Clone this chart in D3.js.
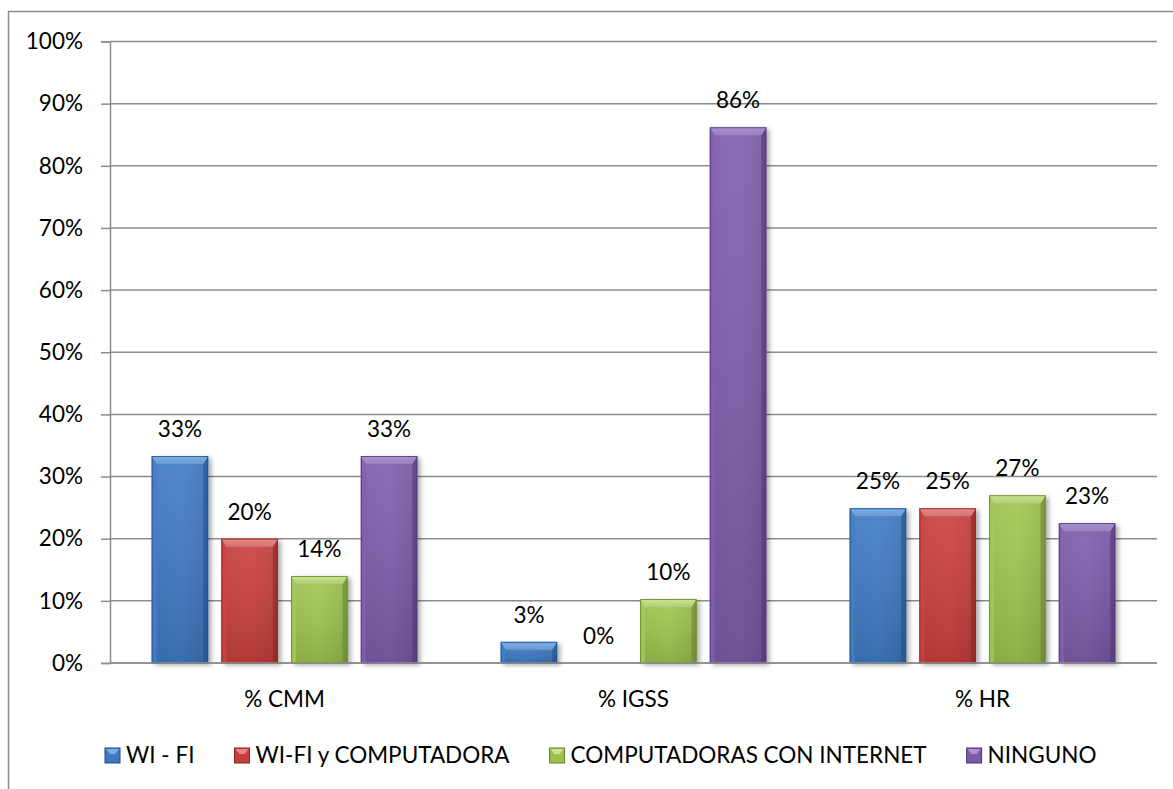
<!DOCTYPE html>
<html>
<head>
<meta charset="utf-8">
<script src="https://cdn.jsdelivr.net/npm/d3@7"></script>
<style>
  html, body { margin: 0; padding: 0; background: #fff; }
  svg { display: block; font-family: Lato, "Open Sans", sans-serif; }
</style>
</head>
<body>
<svg id="chart" width="1173" height="789"></svg>
<script>
// Chart data
const categories = ["% CMM", "% IGSS", "% HR"];
const seriesNames = ["WI - FI", "WI-FI y COMPUTADORA", "COMPUTADORAS CON INTERNET", "NINGUNO"];
const wifi         = [33.3, 3.4, 24.9];
const wifiComp     = [20.0, 0.0, 24.9];
const compInternet = [14.0, 10.3, 27.0];
const ninguno      = [33.3, 86.2, 22.5];
const seriesValues = [wifi, wifiComp, compInternet, ninguno];
const yTicks = [0, 10, 20, 30, 40, 50, 60, 70, 80, 90, 100];

// Series colours: base, light (bevel top), dark (edges)
const palette = [
  { base: "#3f78c0", light: "#7aaee8", dark: "#1f4f8a" },
  { base: "#c4403c", light: "#ec8683", dark: "#8a2522" },
  { base: "#9bc04e", light: "#cbe68c", dark: "#66822a" },
  { base: "#7b5ba8", light: "#ad92d4", dark: "#4e3575" }
];

const FONT = 22.5;
const svg = d3.select("#chart");
const margin = { left: 110, right: 16, top: 41.5, bottom: 126 };
const W = 1173, H = 789;
const plotL = margin.left, plotR = W - margin.right;
const plotT = margin.top, plotB = H - margin.bottom;

// Outer chart frame (left and top edges visible)
svg.append("path")
  .attr("d", `M8.5,${H} L8.5,11.5 L${W},11.5`)
  .attr("fill", "none").attr("stroke", "#8c8c8c").attr("stroke-width", 1.5);

const y = d3.scaleLinear().domain([0, 100]).range([plotB, plotT]);
const x0 = d3.scaleBand().domain(categories).range([plotL, plotR]).padding(0);
const groupInset = x0.bandwidth() * 0.1195;
const x1 = d3.scaleBand().domain(seriesNames)
  .range([groupInset, x0.bandwidth() - groupInset])
  .paddingInner(0.19).paddingOuter(0);

// Gradients and shadow
const defs = svg.append("defs");
palette.forEach((p, i) => {
  const g = defs.append("linearGradient").attr("id", "body" + i)
    .attr("x1", "0").attr("x2", "1").attr("y1", "0").attr("y2", "0");
  g.append("stop").attr("offset", "0").attr("stop-color", p.base);
  g.append("stop").attr("offset", "0.5").attr("stop-color", d3.color(p.base).brighter(0.12));
  g.append("stop").attr("offset", "1").attr("stop-color", d3.color(p.base).darker(0.15));
  const v = defs.append("linearGradient").attr("id", "vert" + i)
    .attr("x1", "0").attr("x2", "0").attr("y1", "0").attr("y2", "1");
  v.append("stop").attr("offset", "0").attr("stop-color", "#fff").attr("stop-opacity", 0.08);
  v.append("stop").attr("offset", "1").attr("stop-color", "#000").attr("stop-opacity", 0.12);
  const t = defs.append("linearGradient").attr("id", "top" + i)
    .attr("x1", "0").attr("x2", "0").attr("y1", "0").attr("y2", "1");
  t.append("stop").attr("offset", "0").attr("stop-color", p.light);
  t.append("stop").attr("offset", "1").attr("stop-color", d3.color(p.light).darker(0.35));
});
const shadow = defs.append("filter").attr("id", "shadow")
  .attr("x", "-20%").attr("y", "-10%").attr("width", "150%").attr("height", "130%");
shadow.append("feGaussianBlur").attr("in", "SourceAlpha").attr("stdDeviation", 2.5).attr("result", "b");
shadow.append("feOffset").attr("in", "b").attr("dx", 3).attr("dy", 2).attr("result", "o");
shadow.append("feComponentTransfer").attr("in", "o").attr("result", "s")
  .append("feFuncA").attr("type", "linear").attr("slope", 0.35);
const merge = shadow.append("feMerge");
merge.append("feMergeNode").attr("in", "s");
merge.append("feMergeNode").attr("in", "SourceGraphic");

// Gridlines
svg.append("g").selectAll("line").data(yTicks).join("line")
  .attr("x1", plotL).attr("x2", plotR)
  .attr("y1", d => y(d)).attr("y2", d => y(d))
  .attr("stroke", "#8c8c8c").attr("stroke-width", 1.5);

// Y axis
const yAxis = svg.append("g").attr("transform", `translate(${plotL},0)`)
  .call(d3.axisLeft(y).tickValues(yTicks).tickFormat(d => d + "%").tickSize(9).tickPadding(18));
yAxis.select(".domain").attr("stroke", "#8c8c8c").attr("stroke-width", 1.5);
yAxis.selectAll(".tick line").attr("stroke", "#8c8c8c").attr("stroke-width", 1.5);
yAxis.selectAll(".tick text").attr("font-size", FONT).attr("fill", "#000")
  .attr("font-family", "Lato, sans-serif");

// Bars
const bars = [];
categories.forEach((c, ci) => {
  seriesNames.forEach((s, si) => {
    bars.push({ cat: c, series: s, si, value: seriesValues[si][ci] });
  });
});

const barG = svg.append("g");
bars.forEach(d => {
  const bx = x0(d.cat) + x1(d.series);
  const bw = x1.bandwidth();
  const top = y(d.value), bot = y(0);
  const h = bot - top;
  if (h < 0.5) return;
  const p = palette[d.si];
  const g = barG.append("g");
  const bev = Math.min(8, h / 2.2);
  const side = Math.min(5, h / 2.2);
  g.append("rect").attr("x", bx).attr("y", top).attr("width", bw).attr("height", h)
    .attr("fill", `url(#body${d.si})`).attr("filter", "url(#shadow)");
  g.append("rect").attr("x", bx).attr("y", top).attr("width", bw).attr("height", h)
    .attr("fill", `url(#vert${d.si})`);
  // left bevel
  g.append("path")
    .attr("d", `M${bx},${top} L${bx + side},${top + bev} L${bx + side},${bot} L${bx},${bot} Z`)
    .attr("fill", d3.color(p.base).brighter(0.15)).attr("opacity", 0.8);
  // right bevel
  g.append("path")
    .attr("d", `M${bx + bw},${top} L${bx + bw - side},${top + bev} L${bx + bw - side},${bot} L${bx + bw},${bot} Z`)
    .attr("fill", p.dark).attr("opacity", 0.55);
  // top bevel
  g.append("path")
    .attr("d", `M${bx},${top} L${bx + bw},${top} L${bx + bw - side},${top + bev} L${bx + side},${top + bev} Z`)
    .attr("fill", `url(#top${d.si})`);
  g.append("rect").attr("x", bx + 0.5).attr("y", top + 0.5).attr("width", bw - 1).attr("height", h - 0.5)
    .attr("fill", "none").attr("stroke", p.dark).attr("stroke-width", 1).attr("opacity", 0.8);
});

// Bottom axis line
svg.append("line").attr("x1", plotL).attr("x2", plotR).attr("y1", y(0)).attr("y2", y(0))
  .attr("stroke", "#8c8c8c").attr("stroke-width", 1.5);

// Value labels
svg.append("g").selectAll("text").data(bars).join("text")
  .attr("x", d => x0(d.cat) + x1(d.series) + x1.bandwidth() / 2)
  .attr("y", d => y(d.value) - 19)
  .attr("text-anchor", "middle")
  .attr("font-size", FONT).attr("fill", "#000")
  .text(d => Math.round(d.value) + "%");

// Category labels
svg.append("g").selectAll("text").data(categories).join("text")
  .attr("x", d => x0(d) + x0.bandwidth() / 2)
  .attr("y", plotB + 44)
  .attr("text-anchor", "middle")
  .attr("font-size", FONT).attr("fill", "#000")
  .text(d => d);

// Legend: items laid out left to right with a fixed gap
const legend = svg.append("g");
let lx = 105;
const ly = 748;
seriesNames.forEach((s, i) => {
  const p = palette[i];
  const lg = legend.append("g");
  lg.append("rect").attr("x", lx).attr("y", ly).attr("width", 15).attr("height", 15)
    .attr("fill", p.base).attr("stroke", p.dark).attr("stroke-width", 1);
  lg.append("path")
    .attr("d", `M${lx + 1},${ly + 1} L${lx + 14},${ly + 1} L${lx + 10},${ly + 6} L${lx + 5},${ly + 6} Z`)
    .attr("fill", p.light);
  const t = lg.append("text").attr("x", lx + 21).attr("y", ly + 15)
    .attr("font-size", FONT).attr("fill", "#000").text(s);
  lx += 21 + t.node().getComputedTextLength() + 40;
});
</script>
</body>
</html>
